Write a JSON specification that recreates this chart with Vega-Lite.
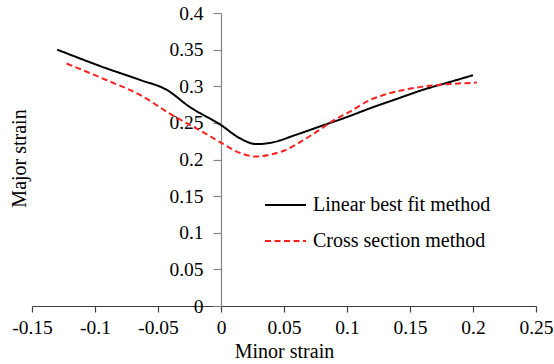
{
  "$schema": "https://vega.github.io/schema/vega-lite/v6.json",
  "width": 504,
  "height": 293,
  "autosize": "none",
  "padding": {"left": 32, "top": 13, "right": 18, "bottom": 58},
  "background": "white",
  "config": {
    "font": "Liberation Serif",
    "view": {"stroke": null},
    "axis": {"grid": false, "labelFont": "Liberation Serif", "titleFont": "Liberation Serif", "labelColor": "black", "titleColor": "black", "titleFontWeight": "normal", "labelFlush": false, "labelOverlap": false},
    "legend": {"rowPadding": 4}
  },
  "data": {
    "values": [
      {"method": "Linear best fit method", "minor": -0.130, "major": 0.350},
      {"method": "Linear best fit method", "minor": -0.091, "major": 0.3245},
      {"method": "Linear best fit method", "minor": -0.064, "major": 0.3085},
      {"method": "Linear best fit method", "minor": -0.043, "major": 0.295},
      {"method": "Linear best fit method", "minor": -0.025, "major": 0.272},
      {"method": "Linear best fit method", "minor": 0.000, "major": 0.247},
      {"method": "Linear best fit method", "minor": 0.015, "major": 0.229},
      {"method": "Linear best fit method", "minor": 0.028, "major": 0.221},
      {"method": "Linear best fit method", "minor": 0.040, "major": 0.223},
      {"method": "Linear best fit method", "minor": 0.060, "major": 0.234},
      {"method": "Linear best fit method", "minor": 0.080, "major": 0.246},
      {"method": "Linear best fit method", "minor": 0.100, "major": 0.258},
      {"method": "Linear best fit method", "minor": 0.120, "major": 0.271},
      {"method": "Linear best fit method", "minor": 0.140, "major": 0.283},
      {"method": "Linear best fit method", "minor": 0.160, "major": 0.295},
      {"method": "Linear best fit method", "minor": 0.180, "major": 0.305},
      {"method": "Linear best fit method", "minor": 0.200, "major": 0.315},
      {"method": "Cross section method", "minor": -0.1225, "major": 0.331},
      {"method": "Cross section method", "minor": -0.091, "major": 0.3085},
      {"method": "Cross section method", "minor": -0.064, "major": 0.288},
      {"method": "Cross section method", "minor": -0.040, "major": 0.262},
      {"method": "Cross section method", "minor": -0.015, "major": 0.238},
      {"method": "Cross section method", "minor": 0.000, "major": 0.223},
      {"method": "Cross section method", "minor": 0.015, "major": 0.209},
      {"method": "Cross section method", "minor": 0.028, "major": 0.204},
      {"method": "Cross section method", "minor": 0.040, "major": 0.207},
      {"method": "Cross section method", "minor": 0.050, "major": 0.212},
      {"method": "Cross section method", "minor": 0.065, "major": 0.226},
      {"method": "Cross section method", "minor": 0.076, "major": 0.238},
      {"method": "Cross section method", "minor": 0.090, "major": 0.254},
      {"method": "Cross section method", "minor": 0.102, "major": 0.265},
      {"method": "Cross section method", "minor": 0.118, "major": 0.281},
      {"method": "Cross section method", "minor": 0.129, "major": 0.288},
      {"method": "Cross section method", "minor": 0.145, "major": 0.295},
      {"method": "Cross section method", "minor": 0.160, "major": 0.2995},
      {"method": "Cross section method", "minor": 0.174, "major": 0.302},
      {"method": "Cross section method", "minor": 0.203, "major": 0.305}
    ]
  },
  "mark": {"type": "line", "interpolate": "monotone", "strokeWidth": 2},
  "encoding": {
    "x": {
      "field": "minor", "type": "quantitative",
      "scale": {"domain": [-0.15, 0.25], "nice": false, "zero": false},
      "axis": {
        "title": "Minor strain",
        "values": [-0.15, -0.1, -0.05, 0, 0.05, 0.1, 0.15, 0.2, 0.25],
        "labelExpr": "'' + datum.value",
        "tickSize": 6, "labelPadding": 21, "labelBaseline": "alphabetic",
        "labelFontSize": 19.5, "titleFontSize": 20,
        "titleY": 51, "titleBaseline": "alphabetic",
        "domainColor": "#404040", "tickColor": "#404040", "domainWidth": 1.2, "tickWidth": 1.2
      }
    },
    "y": {
      "field": "major", "type": "quantitative",
      "scale": {"domain": [0, 0.4], "nice": false},
      "axis": {
        "title": "Major strain",
        "offset": -189,
        "values": [0, 0.05, 0.1, 0.15, 0.2, 0.25, 0.3, 0.35, 0.4],
        "labelExpr": "'' + datum.value",
        "tickSize": 8, "labelPadding": 10, "labelBaseline": "middle",
        "labelFontSize": 19.5, "titleFontSize": 20,
        "titleX": -196, "titleY": 145, "titleAngle": 270, "titleAlign": "center", "titleBaseline": "alphabetic",
        "domainColor": "#868686", "tickColor": "#868686", "domainWidth": 1.2, "tickWidth": 1.2
      }
    },
    "color": {
      "field": "method", "type": "nominal",
      "scale": {"domain": ["Linear best fit method", "Cross section method"], "range": ["#000000", "#FF2020"]},
      "legend": {
        "title": null, "orient": "none", "legendX": 232, "legendY": 170.5,
        "symbolType": "stroke", "symbolSize": 1681, "symbolStrokeWidth": 2,
        "labelFontSize": 20, "labelOffset": 6, "labelColor": "black", "labelLimit": 0, "rowPadding": 4
      }
    },
    "strokeDash": {
      "field": "method", "type": "nominal",
      "scale": {"domain": ["Linear best fit method", "Cross section method"], "range": [[1, 0], [6, 3.5]]},
      "legend": {
        "title": null, "orient": "none", "legendX": 232, "legendY": 170.5,
        "symbolType": "stroke", "symbolSize": 1681, "symbolStrokeWidth": 2,
        "labelFontSize": 20, "labelOffset": 6, "labelColor": "black", "labelLimit": 0, "rowPadding": 4
      }
    }
  }
}
